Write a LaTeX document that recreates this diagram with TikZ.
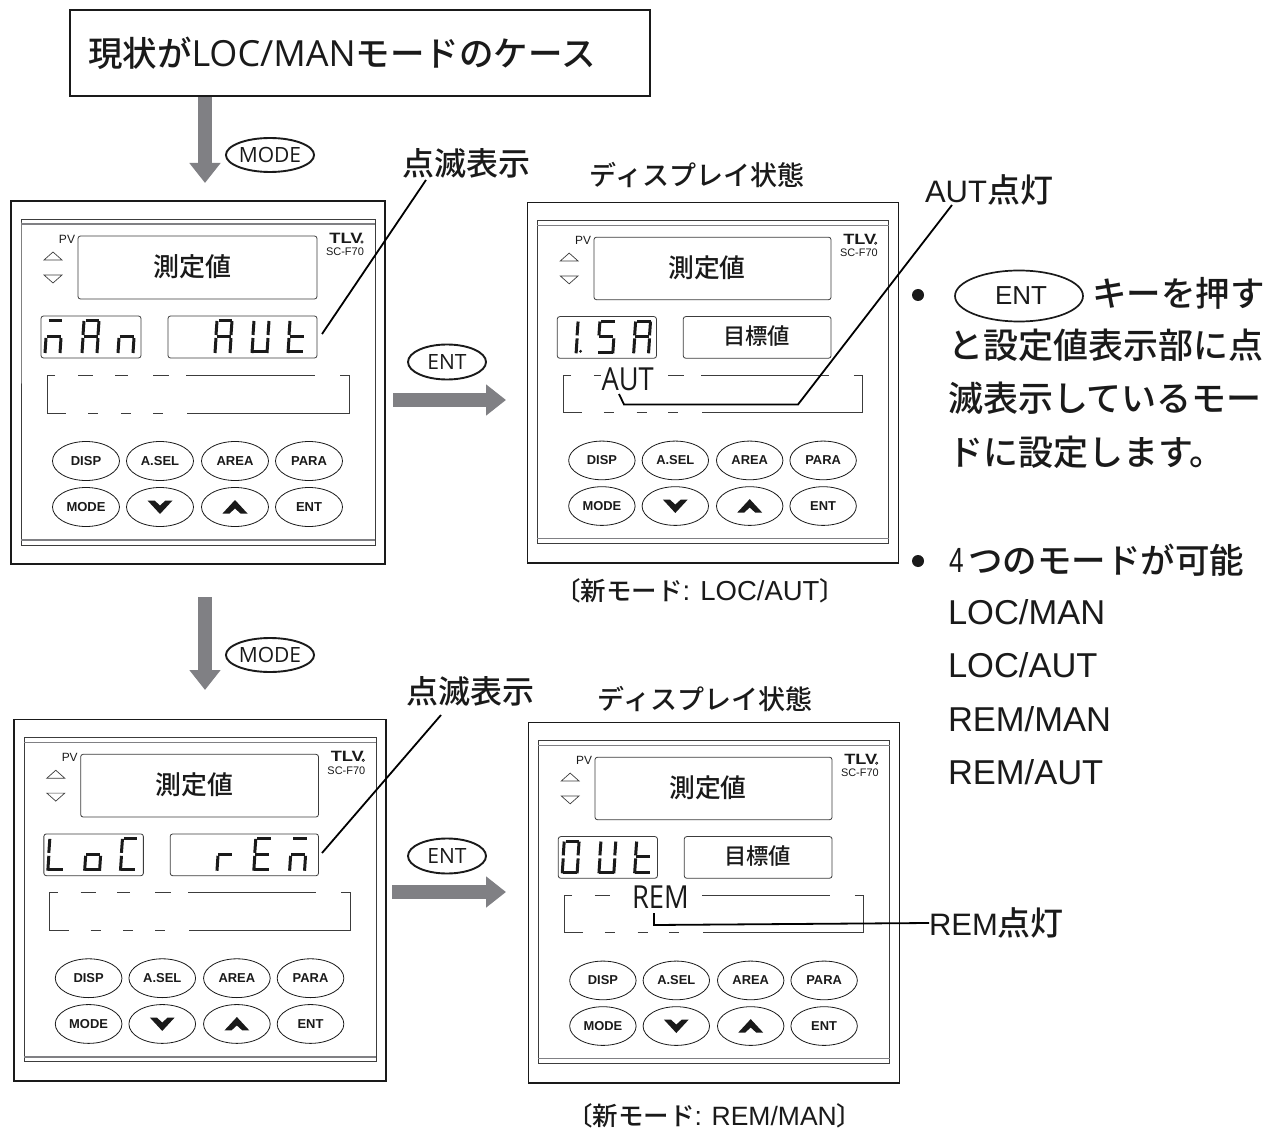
\documentclass[tikz,border=0pt]{standalone}
\usepackage{fontspec}
\usetikzlibrary{arrows.meta,shapes.geometric}
\setmainfont{Open Sans}
\newfontfamily\jp{Noto Sans CJK JP Medium}
\newfontfamily\jpb{Noto Sans CJK JP Medium}
\newfontfamily\pf{Liberation Sans}
\newfontfamily\narrowf[FakeStretch=0.86]{Open Sans}
\newcommand\fs[1]{\fontsize{#1}{#1}\selectfont}
\definecolor{ink}{HTML}{1A1A1A}
\definecolor{arrowgray}{HTML}{808084}
\tikzset{
  x=1pt,y=-1pt,
  every node/.style={inner sep=0pt,outer sep=0pt,text=ink},
  frame/.style={draw=ink,line width=1.8pt},
  thin box/.style={draw=ink!85,line width=0.8pt,rounded corners=2.5pt},
  dashline/.style={draw=ink!85,line width=0.8pt},
  panelbtn/.style={draw=ink,line width=0.8pt,ellipse,minimum width=67pt,minimum height=39pt,font=\pf\bfseries\fs{13}},
  keylabel/.style={draw=ink,line width=1.9pt,ellipse,fill=white,font=\fs{21}},
  flow/.style={draw=arrowgray,line width=14.5pt,-{Triangle[length=20pt,width=30pt,color=arrowgray]}},
  leader/.style={draw=black,line width=1.8pt,line join=miter},
  segline/.style={draw=ink,line width=3pt,line cap=butt},
  jbold/.style={font=\jpb\fs{#1}},
  jreg/.style={font=\jp\fs{#1}},
  mixed/.style={font=\pf\fs{#1},anchor=west},
}
\newcommand\sega[1]{\draw[segline] (#1+3.5,120)--(#1+17,120);}
\newcommand\segb[1]{\draw[segline] (#1+17,120)--(#1+16,134);}
\newcommand\segc[1]{\draw[segline] (#1+16,137)--(#1+15,152);}
\newcommand\segd[1]{\draw[segline] (#1+0.5,151)--(#1+15,151);}
\newcommand\sege[1]{\draw[segline] (#1+1,137)--(#1,152);}
\newcommand\segf[1]{\draw[segline] (#1+2,120)--(#1+1,134);}
\newcommand\segg[1]{\draw[segline] (#1+1.5,135.5)--(#1+15.5,135.5);}
\newcommand\digit[2]{\foreach \k in {#2}{\csname seg\k\endcsname{#1}}}
% prefix, ox, oy, scale, content
\newcommand\panel[5]{%
\begin{scope}[shift={(#2,#3)},scale=#4,transform shape]
  \draw[frame] (0,0) rectangle (374,363);
  \draw[dashline] (10,24) -- (10,18) -- (364,18) -- (364,344) -- (10,344) -- cycle;
  \draw[arrowgray,line width=1.4pt] (10,23) -- (364,23);
  \draw[arrowgray,line width=1.4pt] (10,339) -- (364,339);
  \node[font=\pf\fs{12}] (#1pv) at (56,38) {PV};
  \draw[line width=0.7pt,draw=ink!85] (33,59) -- (42,51) -- (51,59) -- cycle;
  \draw[line width=0.7pt,draw=ink!85] (33,74) -- (51,74) -- (42,82) -- cycle;
  \draw[thin box] (67,35) rectangle (306,98);
  \draw[thin box] (30,115) rectangle (130,157);
  \draw[thin box] (157,115) rectangle (306,157);
  \node[jreg=26] (#1pv text) at (181,66) {測定値};
  \node[font=\pf\bfseries\fs{15}] (#1logo) at (335,37) {\scalebox{1.22}[1]{TLV}};
  \draw[line width=0.6pt] (351,41) circle (1.2);
  \node[font=\pf\fs{11}] (#1model) at (334,51) {SC-F70};
  \draw[dashline] (44,174)--(36,174)--(36,212)--(55,212);
  \draw[dashline] (67,174)--(82,174) (104,174)--(117,174) (142,174)--(158,174) (175,174)--(304,174);
  \draw[dashline] (329,174)--(338,174)--(338,212)--(176,212);
  \draw[dashline] (77,212)--(87,212) (110,212)--(120,212) (142,212)--(152,212);
  \node[panelbtn] (#1disp) at (75,260) {DISP};
  \node[panelbtn] (#1asel) at (149,260) {A.SEL};
  \node[panelbtn] (#1area) at (224,260) {AREA};
  \node[panelbtn] (#1para) at (298,260) {PARA};
  \node[panelbtn] (#1mode) at (75,306) {MODE};
  \node[panelbtn] (#1down) at (149,306) {};
  \node[panelbtn] (#1up) at (224,306) {};
  \node[panelbtn] (#1ent) at (298,306) {ENT};
  \fill[ink] (149-12.5,306-6.5) -- (149-5.5,306-6.5) -- (149,306-1.5) -- (149+5.5,306-6.5) -- (149+12.5,306-6.5) -- (149,306+7) -- cycle;
  \fill[ink] (224-12.5,306+6.5) -- (224-5.5,306+6.5) -- (224,306+1.5) -- (224+5.5,306+6.5) -- (224+12.5,306+6.5) -- (224,306-7) -- cycle;
  #5
\end{scope}}
\begin{document}
\begin{tikzpicture}
\useasboundingbox (0,0) rectangle (1282,1131);
\fill[white] (0,0) rectangle (1282,1131);

\node[frame,draw,minimum width=580pt,minimum height=86pt,fill=white] (title) at (360,53) {};
\node[anchor=west,font=\fs{36}] (titletext) at (88,53) {{\jpb\fs{34.5}現状が}LOC/MAN{\jpb\fs{34.5}モードのケース}};

\coordinate (a1s) at (205,97);
\coordinate (a1e) at (205,183);
\draw[flow] (a1s) -- (a1e);
\node[keylabel,minimum width=84pt,minimum height=34pt] (k1) at (270,155) {MODE};

\panel{pa}{11}{201}{1}{
  \digit{34}{a,g,e,c}\digit{71}{a,b,c,e,f,g}\digit{107}{g,e,c}
  \digit{204}{a,b,c,e,f,g}\digit{241}{b,c,d,e,f}\digit{277}{f,e,d,g}
}
\panel{pb}{527.5}{202.5}{0.992}{
  \node[jreg=22.5] (pbsv) at (231,135) {目標値};
  \digit{34}{b,c}\fill[ink] (53.5,150) circle (1.6);
  \digit{71}{a,f,g,c,d}\digit{107}{a,b,c,e,f,g}
  \node[font=\narrowf\fs{32},fill=white,inner xsep=1pt,inner ysep=-3pt] (aut) at (101,178.5) {AUT};
}
\panel{pc}{14}{719.5}{0.995}{
  \digit{34}{f,e,d}\digit{71}{g,c,d,e}\digit{107}{a,f,e,d}
  \digit{204}{g,e}\digit{241}{a,f,g,e,d}\digit{277}{a,g,e,c}
}
\panel{pd}{528.5}{722.5}{0.992}{
  \node[jreg=22.5] (pdsv) at (231,135) {目標値};
  \digit{34}{a,b,c,d,e,f}\digit{71}{b,c,d,e,f}\digit{107}{f,e,d,g}
  \node[font=\narrowf\fs{32},fill=white,inner xsep=1pt,inner ysep=-3pt] (rem) at (133,176.5) {REM};
}

\coordinate (a2s) at (205,597);
\coordinate (a2e) at (205,690);
\draw[flow] (a2s) -- (a2e);
\node[keylabel,minimum width=84pt,minimum height=34pt] (k2) at (270,655) {MODE};

\coordinate (a3s) at (393,400);
\coordinate (a3e) at (506,400);
\draw[flow] (a3s) -- (a3e);
\node[keylabel,minimum width=78pt,minimum height=35pt] (k3) at (447,362) {ENT};

\coordinate (a4s) at (392,892);
\coordinate (a4e) at (506,892);
\draw[flow] (a4s) -- (a4e);
\node[keylabel,minimum width=78pt,minimum height=35pt] (k4) at (447,856) {ENT};

\node[jbold=32] (blink1) at (466,163) {点滅表示};
\node[jbold=32] (blink2) at (470,691) {点滅表示};
\node[jreg=27] (disp1) at (697,175) {ディスプレイ状態};
\node[jreg=27] (disp2) at (705,699) {ディスプレイ状態};
\node[mixed=31] (autlit) at (925,190) {AUT{\jpb\fs{33}点灯}};
\node[mixed=31] (remlit) at (929,923) {REM{\jpb\fs{33}点灯}};
\node[font=\pf\fs{27.5},anchor=west] (cap1) at (555,591) {{\jp\fs{25.5}〔新モード}: LOC/AUT{\jp\fs{25.5}〕}};
\node[font=\pf\fs{26.5},anchor=west] (cap2) at (567,1116) {{\jp\fs{25.5}〔新モード}: REM/MAN{\jp\fs{25.5}〕}};

\coordinate (l1) at (322,334);
\coordinate (l2) at (426,180);
\draw[leader] (l1) -- (l2);
\coordinate (l3) at (322,853);
\coordinate (l4) at (441,715);
\draw[leader] (l3) -- (l4);
\coordinate (l5) at (619,394);
\coordinate (l6) at (624,404.5);
\coordinate (l7) at (798,404.5);
\coordinate (l8) at (952,205);
\draw[leader] (l5) -- (l6) -- (l7) -- (l8);
\coordinate (l9) at (654,913);
\coordinate (l10) at (654,925);
\draw[leader] (l9) -- (l10) -- (remlit.west);

\fill[ink] (918,295) circle (6);
\node[draw=ink,line width=1.7pt,ellipse,minimum width=128pt,minimum height=51pt,font=\pf\fs{26}] (k5) at (1019,296) {\hspace*{4pt}ENT};
\node[jbold=34.5,anchor=west] (t1) at (1092,293) {キーを押す};
\node[jbold=35,anchor=west] (t2) at (948,345) {と設定値表示部に点};
\node[jbold=35,anchor=west] (t3) at (948,398) {滅表示しているモー};
\node[jbold=35,anchor=west] (t4) at (948,452) {ドに設定します。};
\fill[ink] (918,561) circle (6);
\node[font=\pf\fs{35},anchor=west] (t5a) at (949,560) {\scalebox{0.75}[1]{4}};
\node[jbold=34.5,anchor=west] (t5) at (968,560) {つのモードが可能};
\node[mixed=34.5] (m1) at (948,612) {LOC/MAN};
\node[mixed=34.5] (m2) at (948,665) {LOC/AUT};
\node[mixed=34.5] (m3) at (948,719) {REM/MAN};
\node[mixed=34.5] (m4) at (948,772) {REM/AUT};
\end{tikzpicture}
\end{document}
